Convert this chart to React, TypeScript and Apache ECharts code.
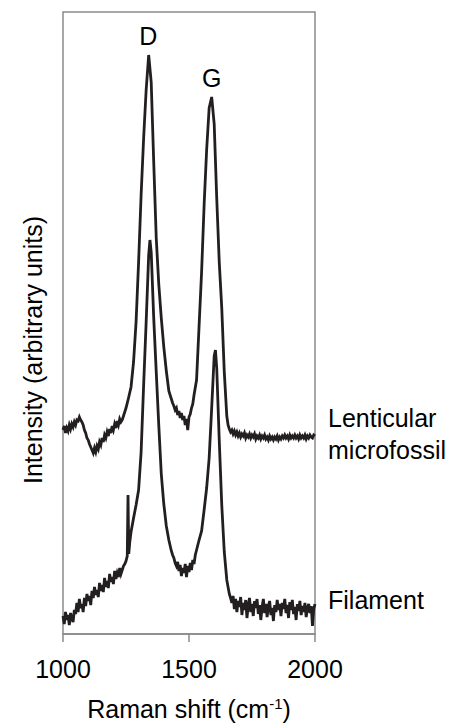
import React, { useEffect, useRef } from "react";
import * as echarts from "echarts";

// Lenticular microfossil spectrum: Raman shift (cm-1) and intensity (arbitrary units).
const lenticularShift = [
  1000, 1005, 1010, 1015, 1020, 1025, 1030, 1035, 1040, 1045,
  1050, 1055, 1060, 1065, 1070, 1075, 1080, 1085, 1090, 1095,
  1100, 1105, 1110, 1115, 1120, 1125, 1130, 1135, 1140, 1145,
  1150, 1155, 1160, 1165, 1170, 1175, 1180, 1185, 1190, 1195,
  1200, 1205, 1210, 1215, 1220, 1225, 1230, 1235, 1240, 1245,
  1250, 1260, 1270, 1280, 1290, 1300, 1310, 1320, 1330, 1340,
  1350, 1360, 1370, 1380, 1390, 1400, 1410, 1420, 1430, 1435,
  1440, 1445, 1450, 1455, 1460, 1465, 1470, 1475, 1480, 1485,
  1490, 1495, 1500, 1505, 1510, 1515, 1520, 1530, 1540, 1550,
  1560, 1570, 1580, 1590, 1600, 1610, 1620, 1630, 1640, 1650,
  1655, 1660, 1665, 1670, 1675, 1680, 1685, 1690, 1695, 1700,
  1705, 1710, 1715, 1720, 1725, 1730, 1735, 1740, 1745, 1750,
  1755, 1760, 1765, 1770, 1775, 1780, 1785, 1790, 1795, 1800,
  1805, 1810, 1815, 1820, 1825, 1830, 1835, 1840, 1845, 1850,
  1855, 1860, 1865, 1870, 1875, 1880, 1885, 1890, 1895, 1900,
  1905, 1910, 1915, 1920, 1925, 1930, 1935, 1940, 1945, 1950,
  1955, 1960, 1965, 1970, 1975, 1980, 1985, 1990, 1995, 2000,
];
const lenticularIntensity = [
  204, 208, 201, 206, 203, 209, 205, 210, 207, 212,
  209, 214, 213, 217, 214, 212, 209, 204, 201, 196,
  194, 190, 187, 184, 181, 186, 182, 188, 185, 192,
  189, 196, 192, 199, 196, 202, 198, 205, 201, 208,
  204, 210, 206, 213, 209, 215, 212, 214, 218, 222,
  226, 236, 247, 272, 312, 372, 439, 496, 544, 579,
  552, 472, 396, 350, 316, 287, 263, 243, 235, 231,
  228, 224, 226, 219, 223, 216, 221, 214, 218, 209,
  215, 204, 217, 220, 226, 230, 239, 254, 308, 362,
  429, 484, 526, 537, 510, 436, 372, 326, 262, 218,
  209, 205, 202, 204, 200, 203, 199, 202, 198, 201,
  197, 200, 198, 201, 196, 199, 197, 200, 196, 199,
  197, 200, 195, 198, 196, 199, 195, 198, 196, 199,
  195, 197, 194, 198, 195, 197, 194, 197, 195, 198,
  194, 197, 195, 198, 196, 199, 196, 198, 195, 199,
  196, 198, 196, 199, 196, 198, 195, 199, 196, 198,
  196, 199, 195, 198, 196, 199, 197, 196, 199, 198,
];

// Filament spectrum: Raman shift (cm-1) and intensity (arbitrary units).
const filamentShift = [
  1000, 1005, 1010, 1015, 1020, 1025, 1030, 1035, 1040, 1045,
  1050, 1055, 1060, 1065, 1070, 1075, 1080, 1085, 1090, 1095,
  1100, 1105, 1110, 1115, 1120, 1125, 1130, 1135, 1140, 1145,
  1150, 1155, 1160, 1165, 1170, 1175, 1180, 1185, 1190, 1195,
  1200, 1205, 1210, 1215, 1220, 1225, 1230, 1235, 1240, 1245,
  1250, 1255, 1258, 1261, 1265, 1270, 1280, 1290, 1300, 1310,
  1320, 1330, 1340, 1345, 1350, 1360, 1370, 1380, 1390, 1400,
  1410, 1420, 1430, 1435, 1440, 1445, 1450, 1455, 1460, 1465,
  1470, 1475, 1480, 1485, 1490, 1495, 1500, 1505, 1510, 1515,
  1520, 1525, 1530, 1540, 1550, 1560, 1570, 1580, 1590, 1600,
  1605, 1610, 1620, 1630, 1640, 1650, 1660, 1665, 1670, 1675,
  1680, 1685, 1690, 1695, 1700, 1705, 1710, 1715, 1720, 1725,
  1730, 1735, 1740, 1745, 1750, 1755, 1760, 1765, 1770, 1775,
  1780, 1785, 1790, 1795, 1800, 1805, 1810, 1815, 1820, 1825,
  1830, 1835, 1840, 1845, 1850, 1855, 1860, 1865, 1870, 1875,
  1880, 1885, 1890, 1895, 1900, 1905, 1910, 1915, 1920, 1925,
  1930, 1935, 1940, 1945, 1950, 1955, 1960, 1965, 1970, 1975,
  1980, 1985, 1990, 1995, 2000,
];
const filamentIntensity = [
  18, 10, 22, 14, 19, 9, 21, 15, 12, 24,
  20, 31, 22, 35, 26, 30, 22, 36, 28, 40,
  33, 38, 29, 43, 36, 47, 39, 44, 37, 51,
  43, 49, 42, 56, 47, 53, 46, 60, 52, 57,
  50, 63, 55, 61, 57, 66, 60, 64, 68, 70,
  73, 78, 139, 80, 92, 102, 116, 129, 144, 182,
  249, 312, 379, 394, 382, 316, 262, 209, 160, 130,
  108, 94, 83, 79, 76, 71, 68, 72, 63, 69,
  58, 66, 61, 70, 57, 68, 62, 71, 64, 74,
  70, 79, 84, 94, 103, 124, 146, 176, 226, 278,
  284, 266, 194, 129, 82, 54, 40, 36, 31, 38,
  25, 35, 22, 33, 27, 37, 19, 31, 24, 34,
  16, 29, 36, 22, 30, 18, 33, 26, 35, 20,
  29, 14, 27, 35, 21, 30, 17, 28, 33, 19,
  26, 13, 29, 22, 34, 24, 30, 18, 31, 25,
  35, 21, 29, 16, 32, 24, 34, 20, 27, 14,
  30, 23, 33, 19, 28, 22, 31, 17, 26, 30,
  21, 28, 8, 25, 30,
];

// Band labels and the band positions they sit above.
const bandNames = ["D", "G"];
const bandShifts = [1338, 1590];

const FONT = "'Liberation Sans', Arial, sans-serif";
const LINE_COLOR = "#231f20";
const FRAME_COLOR = "#8a8a8a";

const pairs = (xs: number[], ys: number[]) => xs.map((x, i) => [x, ys[i]]);

// local maximum of a spectrum near a given shift
const peakNear = (xs: number[], ys: number[], target: number) => {
  let peak = -Infinity;
  xs.forEach((x, i) => {
    if (Math.abs(x - target) <= 10) peak = Math.max(peak, ys[i]);
  });
  return peak;
};

export default function App() {
  const ref = useRef<HTMLDivElement>(null);

  useEffect(() => {
    document.body.style.margin = "0";
    if (!ref.current) return;
    const chart = echarts.init(ref.current, undefined, { renderer: "svg" });

    const textBase = { fontFamily: FONT, fontSize: 25, color: "#000" };

    chart.setOption({
      animation: false,
      backgroundColor: "#fff",
      grid: {
        left: 63,
        right: 142,
        top: 12,
        bottom: 94,
        show: true,
        borderColor: FRAME_COLOR,
        borderWidth: 1.5,
      },
      xAxis: {
        type: "value",
        min: 1000,
        max: 2000,
        interval: 500,
        axisLine: { show: true, lineStyle: { color: FRAME_COLOR, width: 1.5 } },
        axisTick: { show: true, length: 8, lineStyle: { color: FRAME_COLOR, width: 1.5 } },
        axisLabel: { ...textBase, margin: 22, formatter: (v: number) => String(v) },
        splitLine: { show: false },
        name: "Raman shift (cm{sup|-1})",
        nameLocation: "middle",
        nameGap: 62,
        nameTextStyle: {
          ...textBase,
          rich: {
            sup: { fontFamily: FONT, fontSize: 15, color: "#000", verticalAlign: "top", lineHeight: 25 },
          },
        },
      },
      yAxis: {
        type: "value",
        min: 0,
        max: 622,
        axisLine: { show: false },
        axisTick: { show: false },
        axisLabel: { show: false },
        splitLine: { show: false },
      },
      graphic: [
        {
          type: "text",
          x: 33,
          y: 350,
          rotation: Math.PI / 2,
          style: {
            text: "Intensity (arbitrary units)",
            font: `25px ${FONT}`,
            fill: "#000",
            textAlign: "center",
            textVerticalAlign: "middle",
          },
        },
      ],
      series: [
        {
          name: "Lenticular microfossil",
          type: "line",
          data: pairs(lenticularShift, lenticularIntensity),
          showSymbol: false,
          lineStyle: { color: LINE_COLOR, width: 2.8, join: "miter" },
          endLabel: {
            show: true,
            formatter: "Lenticular\nmicrofossil",
            ...textBase,
            lineHeight: 32,
            distance: 13,
            offset: [0, -2],
          },
          markPoint: {
            symbol: "circle",
            symbolSize: 1,
            itemStyle: { color: "transparent" },
            label: { show: true, position: "top", distance: 6, ...textBase },
            data: bandNames.map((name, i) => ({
              name,
              coord: [bandShifts[i], peakNear(lenticularShift, lenticularIntensity, bandShifts[i])],
              label: { formatter: name },
            })),
          },
        },
        {
          name: "Filament",
          type: "line",
          data: pairs(filamentShift, filamentIntensity),
          showSymbol: false,
          lineStyle: { color: LINE_COLOR, width: 2.8, join: "miter" },
          endLabel: {
            show: true,
            formatter: "Filament",
            ...textBase,
            distance: 13,
            offset: [0, -4],
          },
        },
      ],
    });

    return () => chart.dispose();
  }, []);

  return <div ref={ref} style={{ width: 457, height: 728 }} />;
}
